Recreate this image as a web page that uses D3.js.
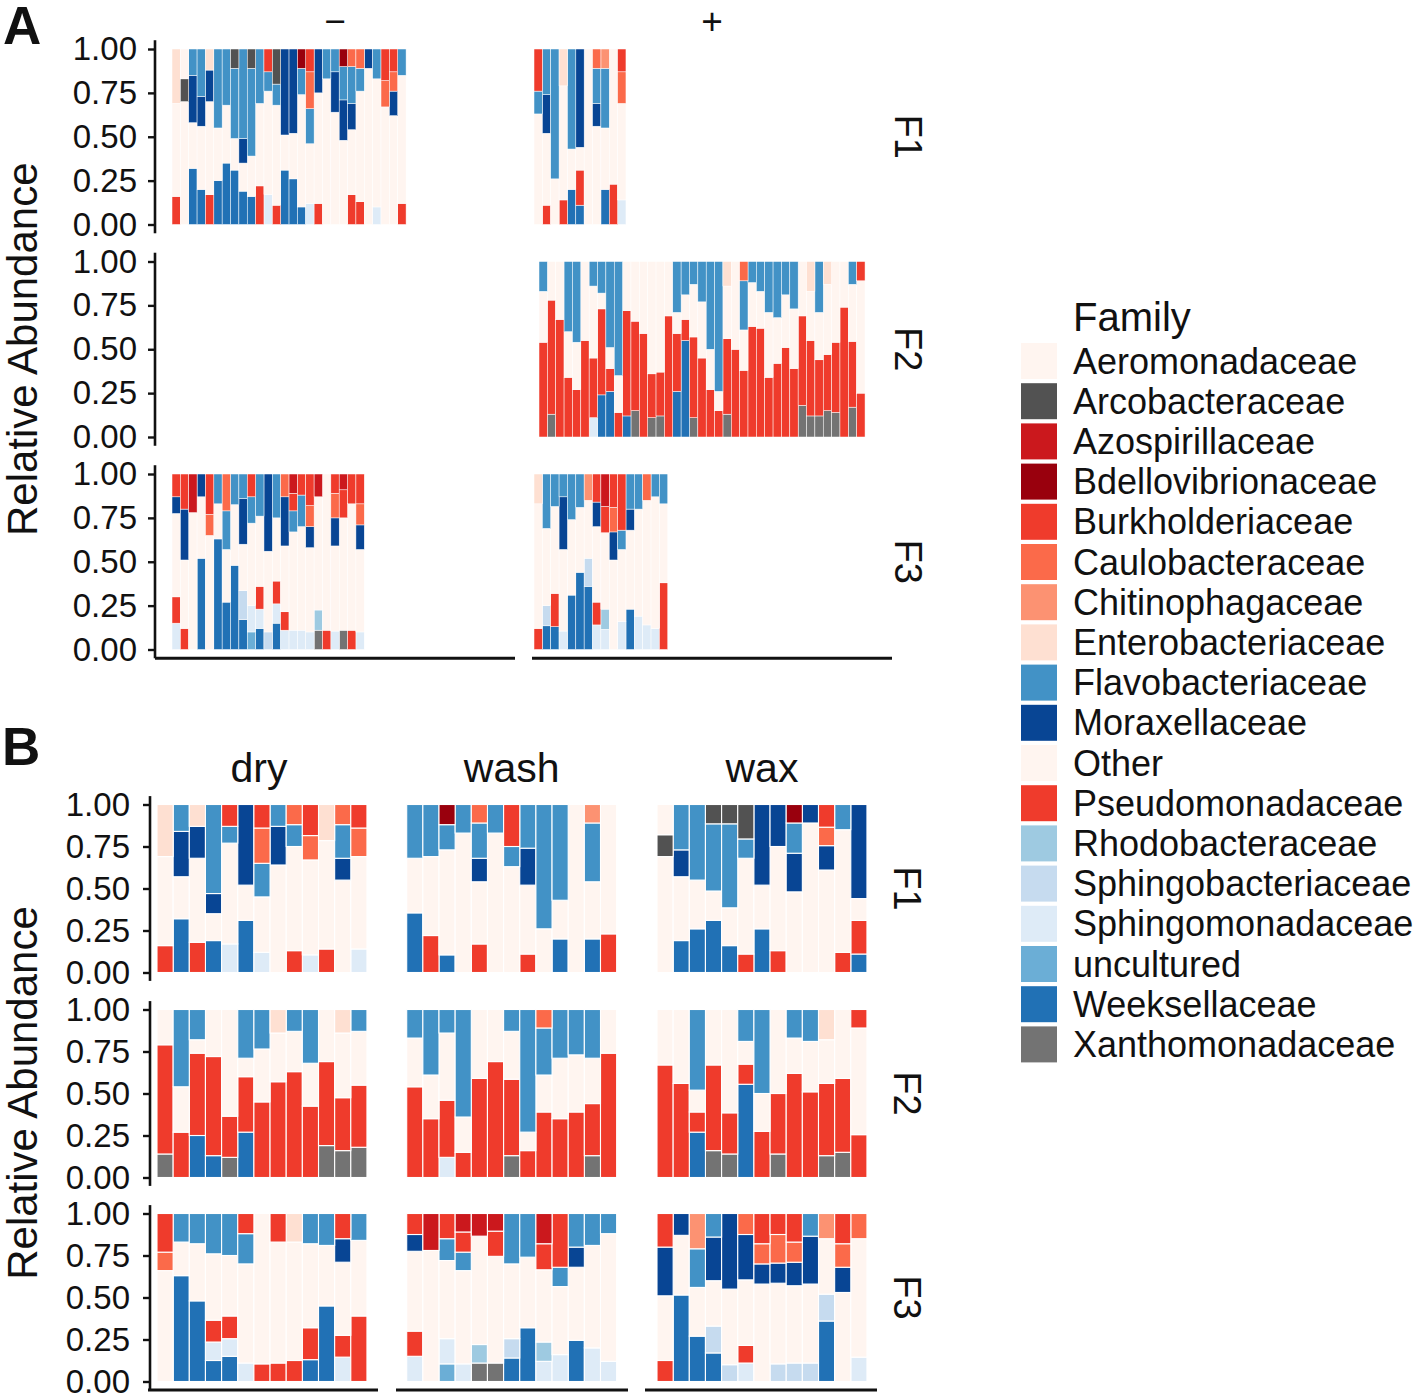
<!DOCTYPE html>
<html><head><meta charset="utf-8">
<script src="https://cdn.jsdelivr.net/npm/d3@7"></script>
<style>
body{margin:0;background:#fff}
svg{display:block}
text{font-family:"Liberation Sans", Arial, Helvetica, sans-serif; fill:#111}
</style>
</head><body>
<svg id="chart" width="1418" height="1397"></svg>
<script>
// ---------------- data ----------------
const families = ["Aeromonadaceae","Arcobacteraceae","Azospirillaceae","Bdellovibrionaceae","Burkholderiaceae","Caulobacteraceae","Chitinophagaceae","Enterobacteriaceae","Flavobacteriaceae","Moraxellaceae","Other","Pseudomonadaceae","Rhodobacteraceae","Sphingobacteriaceae","Sphingomonadaceae","uncultured","Weeksellaceae","Xanthomonadaceae"];
const familyCodes = ["Ae","Ar","Az","Bd","Bu","Ca","Ch","En","Fl","Mo","Ot","Ps","Rh","Sb","Sm","Un","We","Xa"];
const familyColors = ["#FFF5F0","#525252","#CB181D","#99000D","#EF3B2C","#FB6A4A","#FC9272","#FEE0D2","#4292C6","#084594","#FFF5F0","#EF3B2C","#9ECAE1","#C6DBEF","#DEEBF7","#6BAED6","#2171B5","#737373"];
const yTicks = [0, 0.25, 0.5, 0.75, 1];
const rowLabels = ["F1","F2","F3"];
const colLabelsA = ["\u2212","+"];
const colLabelsB = ["dry","wash","wax"];

// each sample: family code + relative abundance; the remainder is "Other"
const A_F1_minus = ["En .31 Ps .16","Ae .17 Ar .13","Fl .15 Mo .27 We .32","Fl .27 Mo .17 We .20","En .12 Mo .18 Ps .17","Fl .45 We .25","Fl .32 We .35","Ar .11 Fl .40 We .31","Fl .51 Mo .14 We .19","Ar .11 Fl .50 We .16","Fl .31 Ps .22","Bu .13 Fl .11 Sm .17","Ar .20 Fl .12 Ps .11","Mo .49 We .31","Mo .48 We .26","Bd .11 Fl .15 We .10","Bu .13 Ca .21 Fl .20 Sm .12","Mo .25 Ps .12","Fl .17","Fl .13 Mo .23","Bd .10 Fl .19 Mo .23","Ca .10 Fl .21 Mo .15 Ps .17","Ca .11 Fl .13 Ps .13","Mo .11","Fl .17 Sm .10","Bu .18 Ca .15","Bu .13 Ca .11 Mo .14","Fl .15 Ps .12"];
const A_F1_plus = ["Bu .24 Fl .13","Fl .26 Mo .22 Ps .11","Fl .74","En .21 Ps .14","Fl .57 We .20","Mo .56 Ps .20 We .11","","Ca .11 Fl .20 Mo .13","Ch .11 Fl .34 We .20","Ps .23","Bu .13 Ca .18 Sm .14"];
const A_F2_plus = ["Fl .17 Ps .54","Ps .65 Xa .13","Ps .67","Fl .40 Ps .34","Fl .46 Ps .27","Ps .55","Fl .14 Ps .34 Sm .11","Fl .18 Ps .49 We .24","Fl .49 Ps .13 We .26","Fl .65 Ps .14","Ps .60 We .12","Ps .51 Xa .15","Ps .59","Ps .25 Xa .11","Ps .25 Xa .12","Ps .69","Fl .29 Ps .33 We .26","Fl .19 Ps .12 We .55","Fl .13 Ps .46 Xa .11","Fl .23 Ps .45","Fl .50 Ps .27","Fl .74 Ps .15","En .14 Ps .43 Xa .13","Ps .50","Ca .11 Fl .28 Ps .38","Fl .12 Ps .63","Fl .17 Ps .62","Fl .29 Ps .34","Fl .32 Ps .42","Fl .19 Ps .51","Fl .27 Ps .39","Ps .51 Xa .18","En .17 Ps .43 Xa .12","Fl .29 Ps .32 Xa .12","En .13 Ps .32 Xa .15","Ps .40 Xa .14","Ps .74","Fl .13 Ps .375 Xa .17","Bu .11 Ps .25"];
const A_F3_minus = ["Bu .13 Mo .095 Ps .15 Sm .15","Bu .20 Mo .29 Ps .12","Az .22","Mo .13 We .52","Bu .23 Ca .12","Fl .17 We .63","Ca .21 Fl .22 We .27","Fl .175 We .48","Fl .14 Mo .26 Sb .165 We .17","Bu .13 Fl .15 Sm .15 Un .10","Fl .24 Ps .13 Sm .11 We .12","Mo .44 Sb .10","Fl .25 Ps .13 Sm .11 We .15","Ca .13 Mo .28 Ps .105 Sm .11","Az .11 Bu .10 Fl .12 Sm .11","Bu .12 Fl .18 Sm .11","Bu .18 Ca .12 Mo .12 Sm .10","Az .13 Rh .115 Xa .11","Ps .11","Bu .11 Ca .14 Mo .16 Sm .105","Az .09 Bu .16 Xa .11","Bu .17 Ps .11","Bu .17 Ca .12 Mo .14 Sm .10"];
const A_F3_plus = ["En .17 Ps .12","Fl .31 Sb .115 We .135","Fl .185 Ps .19 We .13","Fl .13 Mo .30 Sm .105","Fl .26 We .31","Fl .19 We .44","Ch .15 Sb .16 We .36","Bu .16 Mo .14 Ps .13 Sm .14","Az .185 Bu .15 Rh .115 Sm .115","Bu .19 Ca .14 Mo .16","Bu .32 Fl .11 Sm .16","Fl .20 Mo .12 We .23","Fl .20 Sm .19","Ca .15 Sm .14","Fl .13 Sm .12","Fl .17 Ps .38"];

const B_dry_F1 = ["En .31 Ps .16","Fl .16 Mo .27 We .32","En .13 Mo .19 Ps .18","Fl .53 Mo .12 We .19","Bu .13 Fl .10 Sm .17","Mo .48 We .31","Bu .14 Ca .21 Fl .20 Sm .12","Fl .13 Mo .23","Ca .12 Fl .13 Ps .13","Bu .185 Ca .145 Sm .105","En .215 Ps .14","Ca .12 Fl .20 Mo .13","Bu .14 Ca .17 Sm .14"];
const B_wash_F1 = ["Fl .32 We .355","Fl .31 Ps .22","Bd .12 Fl .15 We .105","Fl .17","Ca .11 Fl .21 Mo .14 Ps .17","Fl .17","Bu .25 Fl .12","Fl .26 Mo .22 Ps .11","Fl .74","Fl .57 We .20","","Ch .11 Fl .35 We .20","Ps .23"];
const B_wax_F1 = ["Ae .18 Ar .13","Fl .27 Mo .16 We .19","Fl .45 We .26","Ar .115 Fl .40 We .31","Ar .115 Fl .50 We .16","Ar .205 Fl .115 Ps .11","Mo .48 We .26","Mo .25 Ps .13","Bd .11 Fl .18 Mo .23","Mo .11","Bu .135 Ca .11 Mo .145","Fl .15 Ps .12","Mo .56 Ps .20 We .11"];
const B_dry_F2 = ["Ps .65 Xa .14","Fl .46 Ps .27","Fl .18 Ps .49 We .25","Ps .59 We .13","Ps .245 Xa .12","Fl .29 Ps .33 We .27","Fl .235 Ps .45","En .14 Ps .57","Fl .13 Ps .63","Fl .32 Ps .425","Ps .50 Xa .19","En .14 Ps .315 Xa .16","Fl .13 Ps .37 Xa .18"];
const B_wash_F2 = ["Fl .17 Ps .54","Fl .39 Ps .35","Fl .14 Ps .34 Sm .12","Fl .64 Ps .15","Ps .59","Ps .69","Fl .13 Ps .455 Xa .13","Fl .73 Ps .16","Ca .11 Fl .28 Ps .39","Fl .29 Ps .35","Fl .27 Ps .39","Fl .29 Ps .31 Xa .13","Ps .74"];
const B_wax_F2 = ["Ps .67","Ps .56","Fl .48 Ps .12 We .27","Ps .51 Xa .16","Ps .245 Xa .14","Fl .19 Ps .12 We .555","Fl .50 Ps .275","Ps .36 Xa .14","Fl .17 Ps .62","Fl .19 Ps .51","En .18 Ps .43 Xa .13","Ps .44 Xa .15","Bu .11 Ps .255"];
const B_dry_F3 = ["Bu .23 Ca .11","Fl .17 We .63","Fl .18 We .48","Fl .24 Ps .13 Sm .11 We .125","Fl .25 Ps .135 Sm .105 We .15","Bu .12 Fl .18 Sm .11","Ps .105","Bu .17 Ps .11","En .17 Ps .125","Fl .18 Ps .19 We .13","Fl .19 We .45","Bu .15 Mo .14 Ps .13 Sm .145","Fl .16 Ps .39"];
const B_wash_F3 = ["Bu .125 Mo .10 Ps .15 Sm .15","Az .22","Bu .15 Fl .13 Sm .15 Un .105","Az .11 Bu .12 Fl .11 Sm .105","Az .135 Rh .11 Xa .11","Az .105 Bu .15 Xa .11","Fl .30 Sb .115 We .14","Fl .26 We .32","Az .18 Bu .155 Rh .115 Sm .12","Bu .32 Fl .115 Sm .16","Fl .20 Mo .12 We .245","Fl .19 Sm .20","Fl .12 Sm .12"];
const B_wax_F3 = ["Bu .20 Mo .29 Ps .125","Mo .13 We .515","Ch .21 Fl .23 We .27","Fl .14 Mo .26 Sb .16 We .17","Mo .45 Sb .10","Ca .125 Mo .27 Ps .105 Sm .11","Bu .18 Ca .12 Mo .12","Bu .125 Ca .17 Mo .12 Sb .105","Bu .17 Ca .12 Mo .14 Sb .11","Fl .135 Mo .285 Sb .11","Ch .15 Sb .16 We .36","Bu .18 Ca .14 Mo .15","Ca .15 Sm .145"];

// ---------------- helpers ----------------
const svg = d3.select("#chart");
svg.append("rect").attr("width",1418).attr("height",1397).attr("fill","#fff");
const color = d3.scaleOrdinal().domain(familyCodes).range(familyColors);
const stackKeys = familyCodes.slice().reverse(); // Xanthomonadaceae at bottom, Aeromonadaceae at top
const stacker = d3.stack().keys(stackKeys);

function parseSample(s){
  const o = {}; familyCodes.forEach(k => o[k] = 0);
  const t = s.trim() ? s.trim().split(/\s+/) : [];
  let sum = 0;
  for (let i=0;i<t.length;i+=2){ o[t[i]] = +t[i+1]; sum += +t[i+1]; }
  o.Ot = Math.max(0, 1 - sum);
  return o;
}

function drawFacet(g, data, x0, unit, y, sw){
  const x = d3.scaleBand().domain(d3.range(data.length)).range([x0, x0 + unit*data.length]).padding(0);
  const series = stacker(data.map(parseSample));
  g.append("g").selectAll("g").data(series).join("g")
    .attr("fill", s => color(s.key))
    .selectAll("rect").data(s => s.map((d,i)=>({d,i})).filter(e => e.d[1]-e.d[0] > 0.0005))
    .join("rect")
      .attr("x", e => x(e.i)).attr("width", x.bandwidth())
      .attr("y", e => y(e.d[1])).attr("height", e => y(e.d[0]) - y(e.d[1]))
      .attr("stroke","#fff").attr("stroke-width", sw);
}

function drawYAxis(g, y, ax, pad, lineBottom){
  const axis = d3.axisLeft(y).tickValues(yTicks).tickFormat(d3.format(".2f"))
    .tickSize(7).tickPadding(pad).tickSizeOuter(0);
  const a = g.append("g").attr("transform", `translate(${ax},0)`).call(axis);
  a.select(".domain").remove();
  a.selectAll(".tick line").attr("stroke","#111").attr("stroke-width",2.4);
  a.selectAll(".tick text").attr("font-size",33).attr("font-family",'"Liberation Sans", Arial, sans-serif').attr("fill","#111");
  g.append("line").attr("x1",ax).attr("x2",ax)
    .attr("y1", y(1.05)).attr("y2", lineBottom == null ? y(-0.05) : lineBottom)
    .attr("stroke","#111").attr("stroke-width",2.6);
}

// ---------------- Panel A ----------------
const gA = svg.append("g");
const rowTopA = [49, 261.5, 474], rowHA = 175.5, unitA = 8.36, axisXA = 155;
const yA = rowTopA.map(t => d3.scaleLinear().domain([0,1]).range([t + rowHA, t]));
const facetsA = [
  {row:0, data:A_F1_minus, x0:172},
  {row:0, data:A_F1_plus,  x0:534},
  {row:1, data:A_F2_plus,  x0:539},
  {row:2, data:A_F3_minus, x0:172},
  {row:2, data:A_F3_plus,  x0:534}
];
facetsA.forEach(f => drawFacet(gA, f.data, f.x0, unitA, yA[f.row], 0.5));
const xAxisYA = yA[2](-0.05);
yA.forEach((y,i) => drawYAxis(gA, y, axisXA, 11, i === 2 ? xAxisYA : null));
[[155,515],[532,892]].forEach(([a,b]) => gA.append("line").attr("x1",a).attr("x2",b)
  .attr("y1",xAxisYA).attr("y2",xAxisYA).attr("stroke","#111").attr("stroke-width",3));
[335,712].forEach((cx,i) => gA.append("text").attr("x",cx).attr("y",21)
  .attr("text-anchor","middle").attr("dominant-baseline","central").attr("font-size",37).text(colLabelsA[i]));
yA.forEach((y,i) => gA.append("text").attr("transform",`translate(908,${(y(0)+y(1))/2}) rotate(90)`)
  .attr("text-anchor","middle").attr("dominant-baseline","central").attr("font-size",38).text(rowLabels[i]));
gA.append("text").attr("transform",`translate(22,${(yA[0](1.05)+yA[2](-0.05))/2}) rotate(-90)`)
  .attr("text-anchor","middle").attr("dominant-baseline","central").attr("font-size",42).text("Relative Abundance");
gA.append("text").attr("x",3).attr("y",44).attr("font-size",53).attr("font-weight","bold").text("A");

// ---------------- Panel B ----------------
const gB = svg.append("g");
const rowTopB = [804.5, 1009.5, 1213.5], rowHB = 168, unitB = 16.15, axisXB = 150;
const yB = rowTopB.map(t => d3.scaleLinear().domain([0,1]).range([t + rowHB, t]));
const colX0B = [157, 406.7, 657];
const dataB = [
  [B_dry_F1, B_wash_F1, B_wax_F1],
  [B_dry_F2, B_wash_F2, B_wax_F2],
  [B_dry_F3, B_wash_F3, B_wax_F3]
];
dataB.forEach((row,r) => row.forEach((d,c) => drawFacet(gB, d, colX0B[c], unitB, yB[r], 1.1)));
const xAxisYB = yB[2](-0.05);
yB.forEach((y,i) => drawYAxis(gB, y, axisXB, 13, i === 2 ? xAxisYB : null));
[[148,378],[396,628],[645,877]].forEach(([a,b]) => gB.append("line").attr("x1",a).attr("x2",b)
  .attr("y1",xAxisYB).attr("y2",xAxisYB).attr("stroke","#111").attr("stroke-width",3));
colX0B.forEach((x0,i) => gB.append("text").attr("x", x0 + unitB*13/2 - (i===0?3:0)).attr("y",768)
  .attr("text-anchor","middle").attr("dominant-baseline","central").attr("font-size",41).text(colLabelsB[i]));
yB.forEach((y,i) => gB.append("text").attr("transform",`translate(907,${(y(0)+y(1))/2}) rotate(90)`)
  .attr("text-anchor","middle").attr("dominant-baseline","central").attr("font-size",38).text(rowLabels[i]));
gB.append("text").attr("transform",`translate(22,${(yB[0](1.05)+yB[2](-0.05))/2}) rotate(-90)`)
  .attr("text-anchor","middle").attr("dominant-baseline","central").attr("font-size",42).text("Relative Abundance");
gB.append("text").attr("x",2).attr("y",765).attr("font-size",53).attr("font-weight","bold").text("B");

// ---------------- Legend ----------------
const gL = svg.append("g");
gL.append("text").attr("x",1073).attr("y",317).attr("dominant-baseline","central").attr("font-size",40).text("Family");
const legY = d3.scaleBand().domain(families).range([341, 341 + 40.2*families.length]);
families.forEach((f,i) => {
  gL.append("rect").attr("x",1021).attr("y",legY(f)+2).attr("width",36).attr("height",36).attr("fill",familyColors[i]);
  gL.append("text").attr("x",1073).attr("y",legY(f)+20).attr("dominant-baseline","central").attr("font-size",36).text(f);
});
</script>
</body></html>
